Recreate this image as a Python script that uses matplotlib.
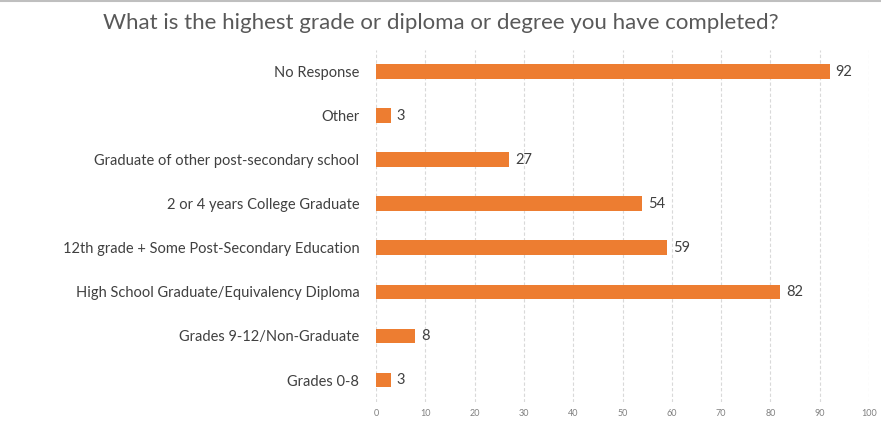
import matplotlib
matplotlib.use('Agg')
import matplotlib.pyplot as plt
from matplotlib.lines import Line2D

# data, bottom row first
categories = ['Grades 0-8', 'Grades 9-12/Non-Graduate',
              'High School Graduate/Equivalency Diploma',
              '12th grade + Some Post-Secondary Education',
              '2 or 4 years College Graduate',
              'Graduate of other post-secondary school',
              'Other', 'No Response']
counts = [3, 8, 82, 59, 54, 27, 3, 92]
x_ticks = list(range(0, 101, 10))

ORANGE = '#ED7D31'
TXT = '#404040'
GRID = '#d9d9d9'

plt.rcParams['font.family'] = ['Lato', 'DejaVu Sans']

fig = plt.figure(figsize=(8.81, 4.23), dpi=100, facecolor='white')
ax = fig.add_axes([0.4268, 0.0496, 0.9864 - 0.4268, 0.882 - 0.0496])

y = range(len(categories))
ax.barh(y, counts, height=0.34, color=ORANGE, zorder=3)
for yi, v in zip(y, counts):
    ax.text(v + 1.2, yi, str(v), va='center', ha='left', fontsize=10.5, color=TXT)

ax.set_xlim(0, 100)
ax.set_ylim(-0.5, len(categories) - 0.5)
ax.set_xticks(x_ticks)
ax.set_xticklabels([str(t) for t in x_ticks], fontsize=6.5, color='#808080')
ax.set_yticks(list(y))
ax.set_yticklabels(categories, fontsize=10.5, color=TXT)
ax.tick_params(axis='x', length=0, pad=5)
ax.tick_params(axis='y', length=0, pad=12)
ax.grid(axis='x', color=GRID, linestyle=(0, (3, 2)), linewidth=0.8, zorder=0)
for s in ax.spines.values():
    s.set_visible(False)

fig.text(0.5, 0.946, 'What is the highest grade or diploma or degree you have completed?',
         ha='center', va='center', fontsize=16, color='#595959')

# thin grey line along the top edge
fig.add_artist(Line2D([0, 1], [0.997, 0.997], transform=fig.transFigure,
                      color='#bfbfbf', linewidth=1.5))

fig.savefig('out.png', dpi=100, facecolor='white')
